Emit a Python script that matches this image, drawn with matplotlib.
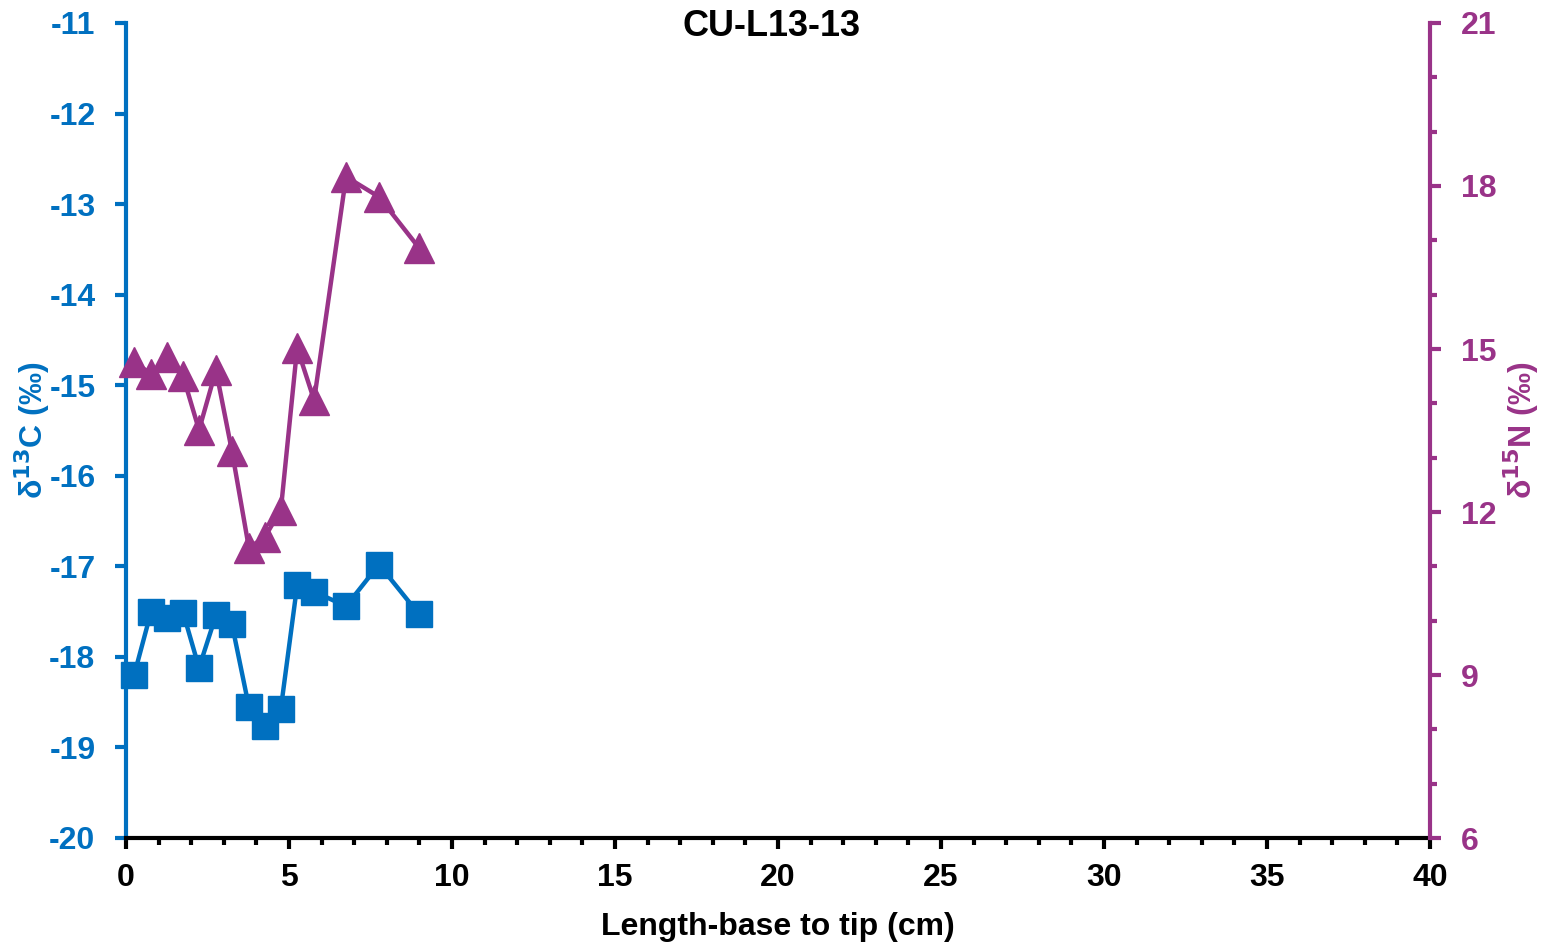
import matplotlib.pyplot as plt
from matplotlib.ticker import MultipleLocator

plt.rcParams['font.family'] = ['Liberation Sans', 'DejaVu Sans']
plt.rcParams['font.weight'] = 'bold'
plt.rcParams['axes.unicode_minus'] = False

blue = '#0070C0'
purple = '#993388'

length_cm = [0.25, 0.77, 1.26, 1.75, 2.24, 2.76, 3.25, 3.77, 4.26, 4.75, 5.25, 5.77, 6.75, 7.76, 8.99]
d13c = [-18.20, -17.50, -17.57, -17.51, -18.12, -17.54, -17.64, -18.55, -18.76, -18.57,
        -17.21, -17.28, -17.44, -16.98, -17.53]
d15n = [14.76, 14.54, 14.85, 14.50, 13.51, 14.61, 13.12, 11.34, 11.54, 12.04,
        15.02, 14.06, 18.17, 17.80, 16.86]

fig = plt.figure(figsize=(15.51, 9.46), dpi=100)
ax = fig.add_axes([126/1551, 1 - 838/946, (1430-126)/1551, (838-23)/946])
ax2 = ax.twinx()

ax.plot(length_cm, d13c, color=blue, lw=3.2, marker='s', ms=19, clip_on=False, zorder=3)
ax2.plot(length_cm, d15n, color=purple, lw=3.2, marker='^', ms=21, clip_on=False, zorder=3)

ax.set_xlim(0, 40)
ax.set_ylim(-20, -11)
ax2.set_ylim(6, 21)
ax.xaxis.set_major_locator(MultipleLocator(5))
ax.xaxis.set_minor_locator(MultipleLocator(1))
ax.yaxis.set_major_locator(MultipleLocator(1))
ax2.yaxis.set_major_locator(MultipleLocator(3))
ax2.yaxis.set_minor_locator(MultipleLocator(1))

for a in (ax, ax2):
    a.spines['top'].set_visible(False)
ax.spines['right'].set_visible(False)
ax2.spines['bottom'].set_visible(False)
ax2.spines['left'].set_visible(False)
ax.spines['left'].set_color(blue)
ax.spines['left'].set_linewidth(3)
ax.spines['bottom'].set_linewidth(3)
ax2.spines['right'].set_color(purple)
ax2.spines['right'].set_linewidth(3)

fs = 23
ax.tick_params(axis='x', which='major', direction='out', length=8, width=3, labelsize=fs, pad=10)
ax.tick_params(axis='x', which='minor', direction='out', length=5, width=3)
ax.tick_params(axis='y', which='major', direction='out', length=8, width=3, colors=blue, labelsize=fs, pad=14)
ax2.tick_params(axis='y', which='major', direction='out', length=8, width=3, colors=purple, labelsize=fs, pad=14)
ax2.tick_params(axis='y', which='minor', direction='out', length=5, width=3, colors=purple)

ax.set_xlabel('Length-base to tip (cm)', fontsize=fs, fontweight='bold', labelpad=14)
ax.set_ylabel('δ$^{\\mathbf{13}}$C (‰)', fontsize=fs, fontweight='bold', color=blue, labelpad=-2)
ax2.set_ylabel('δ$^{\\mathbf{15}}$N (‰)', fontsize=fs, fontweight='bold', color=purple, labelpad=4)
fig.text(771/1551, 1 - 27/946, 'CU-L13-13', fontsize=26, fontweight='bold', ha='center', va='center')

fig.savefig('out.png', dpi=100)
